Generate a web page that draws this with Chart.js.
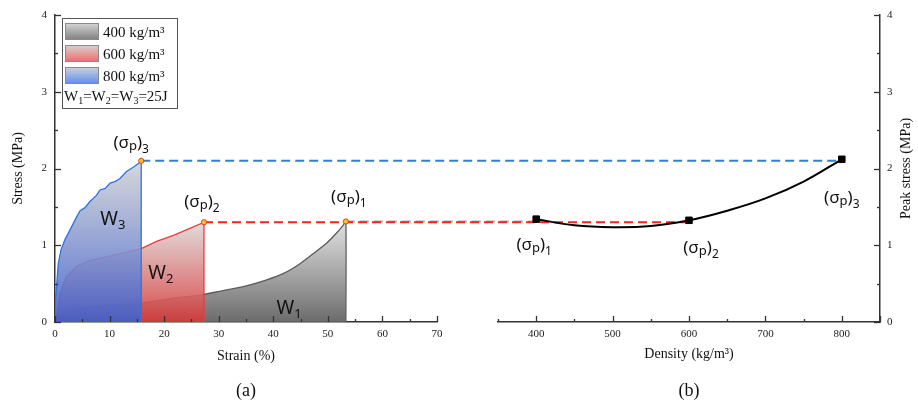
<!DOCTYPE html>
<html>
<head>
<meta charset="utf-8">
<script src="https://cdn.jsdelivr.net/npm/chart.js@4.4.1/dist/chart.umd.min.js"></script>
<style>
html,body{margin:0;padding:0;background:#fff;}
#wrap{position:relative;width:918px;height:405px;}
canvas{display:block;}
</style>
</head>
<body>
<div id="wrap"><canvas id="c" width="918" height="405"></canvas></div>
<script>
// ---------------- data ----------------
const strain400 = [0, 0.5, 1.5, 3.4, 5.8, 10.1, 15.9, 21.7, 26.6, 30.2, 34.5, 38.8, 41.8, 44.9, 47.3, 49.8, 51.6, 52.8, 53.3, 53.3];
const stress400 = [0, 0.05, 0.11, 0.17, 0.20, 0.22, 0.25, 0.31, 0.35, 0.40, 0.46, 0.55, 0.63, 0.76, 0.89, 1.03, 1.16, 1.26, 1.31, 0];
const strain600 = [0, 0.3, 0.9, 2.1, 4.0, 6.4, 10.1, 13.1, 15.9, 18.6, 21.7, 24.7, 27.0, 27.3, 27.3];
const stress600 = [0, 0.07, 0.37, 0.59, 0.73, 0.80, 0.86, 0.91, 0.96, 1.05, 1.13, 1.22, 1.29, 1.30, 0];
const strain800 = [0, 0, 0.6, 1.1, 1.8, 2.75, 3.97, 4.6, 5.5, 6.4, 7.6, 8.25, 9.2, 10.1, 11.0, 11.9, 13.1, 14.4, 15.6, 15.8, 15.8];
const stress800 = [0, 0.20, 0.76, 0.94, 1.07, 1.20, 1.37, 1.45, 1.49, 1.57, 1.65, 1.72, 1.74, 1.81, 1.83, 1.87, 1.96, 2.02, 2.08, 2.10, 0];

const peakStrain = [53.3, 27.3, 15.8];        // 400, 600, 800 kg/m3
const peakStress = [1.31, 1.30, 2.10];

const densities   = [400, 600, 800];
const peakStressB = [1.34, 1.325, 2.12];
const fitDensity  = [400, 450, 500, 550, 600, 650, 700, 750, 800];
const fitStress   = [1.34, 1.26, 1.235, 1.25, 1.325, 1.45, 1.61, 1.83, 2.12];

const strainTicks  = [0, 10, 20, 30, 40, 50, 60, 70];
const densityTicks = [400, 500, 600, 700, 800];
const stressTicks  = [0, 1, 2, 3, 4];

const legendLabels = ['400 kg/m³', '600 kg/m³', '800 kg/m³'];
const peakIndexLabels = ['1', '2', '3'];
const workLabels = ['1', '2', '3'];

// ---------------- layout / style constants ----------------
const PANEL_A_RIGHT = 437;
const PANEL_B_LEFT = 498;
const SERIF = '"Liberation Serif", "Times New Roman", serif';
const SANS = '"Noto Sans", "Open Sans", sans-serif';
const seriesLine = ['#5a5a5a', '#ee3b3b', '#2f72e6'];
const seriesTop = ['rgba(222,222,222,0.9)', 'rgba(222,214,214,0.88)', 'rgba(210,210,212,0.88)'];
const seriesBottom = ['rgba(100,100,100,0.95)', 'rgba(214,56,56,0.9)', 'rgba(62,96,206,0.9)'];
const dashColors = ['#a8a8a8', '#ee2626', '#2f80d2'];
// label offsets in px relative to anchors: [dx, baseline dy]
const peakLabelOffA = [[3, -19], [-2, -15], [-10, -13]];
const peakLabelOffB = [[-2, 31], [12, 33], [0, 44]];
const workAnchor = [[42.9, 0.104], [19.4, 0.56], [10.6, 1.264]];

const pts = (xs, ys) => xs.map((x, i) => ({x: x, y: ys[i]}));

function areaGradient(i, peak) {
  return (c) => {
    const ch = c.chart, ca = ch.chartArea;
    if (!ca || !ch.scales.y) return seriesTop[i];
    const y0 = ch.scales.y.getPixelForValue(peak);
    const g = ch.ctx.createLinearGradient(0, y0, 0, ca.bottom);
    g.addColorStop(0, seriesTop[i]);
    g.addColorStop(1, seriesBottom[i]);
    return g;
  };
}

function drawRuns(ctx, runs, x, baseline, family, align) {
  let w = 0;
  runs.forEach(r => { ctx.font = r[1] + 'px ' + family; w += ctx.measureText(r[0]).width; });
  let cx = align === 'left' ? x : x - w / 2;
  ctx.textAlign = 'left';
  ctx.textBaseline = 'alphabetic';
  runs.forEach(r => {
    ctx.font = r[1] + 'px ' + family;
    ctx.fillText(r[0], cx, baseline + r[2]);
    cx += ctx.measureText(r[0]).width;
  });
}
const sigmaRuns = (n) => [['(σ', 17, 0], ['p', 13, 2], [')', 17, 0], [n, 12, 5]];

function drawTicks(ctx, scale, dir, majorLen, minorLen) {
  const vals = scale.ticks.map(t => t.value);
  const step = vals.length > 1 ? vals[1] - vals[0] : 1;
  const minors = [];
  for (let v = scale.min; v <= scale.max + 1e-9; v += step / 2) minors.push(v);
  ctx.save();
  ctx.strokeStyle = '#333';
  ctx.lineWidth = 1.3;
  minors.forEach(v => {
    const isMajor = vals.some(m => Math.abs(m - v) < 1e-9) || Math.abs(v - scale.max) < 1e-9;
    const len = isMajor ? majorLen : minorLen;
    const p = Math.round(scale.getPixelForValue(v)) + 0.5;
    ctx.beginPath();
    if (dir === 'up') { ctx.moveTo(p, scale.top); ctx.lineTo(p, scale.top - len); }
    else if (dir === 'right') { ctx.moveTo(scale.right, p); ctx.lineTo(scale.right + len, p); }
    else if (dir === 'left') { ctx.moveTo(scale.left, p); ctx.lineTo(scale.left - len, p); }
    ctx.stroke();
  });
  ctx.restore();
}

const customPlugin = {
  id: 'custom',
  afterLayout(chart) {
    const ca = chart.chartArea;
    const xa = chart.scales.xa, xb = chart.scales.xb;
    xa.left = ca.left; xa.right = PANEL_A_RIGHT; xa.width = xa.right - xa.left;
    xb.left = PANEL_B_LEFT; xb.right = ca.right; xb.width = xb.right - xb.left;
    xb.top = xa.top; xb.bottom = xa.bottom; xb.height = xa.height;
    xa.configure(); xb.configure();
  },
  beforeDatasetsDraw(chart) {
    const ctx = chart.ctx, xa = chart.scales.xa, xb = chart.scales.xb, y = chart.scales.y;
    ctx.save();
    ctx.lineWidth = 2;
    ctx.setLineDash([9, 5]);
    for (let i = 0; i < peakStrain.length; i++) {
      const py = y.getPixelForValue(peakStress[i]);
      ctx.strokeStyle = dashColors[i];
      ctx.beginPath();
      ctx.moveTo(xa.getPixelForValue(peakStrain[i]), py);
      ctx.lineTo(xb.getPixelForValue(densities[i]), py);
      ctx.stroke();
    }
    ctx.restore();
  },
  afterDraw(chart) {
    const ctx = chart.ctx, s = chart.scales;
    // inward tick marks
    drawTicks(ctx, s.xa, 'up', 6, 3);
    drawTicks(ctx, s.xb, 'up', 6, 3);
    drawTicks(ctx, s.y, 'right', 6, 3);
    drawTicks(ctx, s.y2, 'left', 6, 3);

    ctx.save();
    ctx.fillStyle = '#111';
    // peak labels, panel (a)
    for (let i = 0; i < peakStrain.length; i++) {
      const x = s.xa.getPixelForValue(peakStrain[i]) + peakLabelOffA[i][0];
      const yb = s.y.getPixelForValue(peakStress[i]) + peakLabelOffA[i][1];
      drawRuns(ctx, sigmaRuns(peakIndexLabels[i]), x, yb, SANS);
    }
    // peak labels, panel (b)
    for (let i = 0; i < densities.length; i++) {
      const x = s.xb.getPixelForValue(densities[i]) + peakLabelOffB[i][0];
      const yb = s.y2.getPixelForValue(peakStressB[i]) + peakLabelOffB[i][1];
      drawRuns(ctx, sigmaRuns(peakIndexLabels[i]), x, yb, SANS);
    }
    // work labels
    for (let i = 0; i < workLabels.length; i++) {
      const x = s.xa.getPixelForValue(workAnchor[i][0]);
      const yb = s.y.getPixelForValue(workAnchor[i][1]);
      drawRuns(ctx, [['W', 19, 0], [workLabels[i], 13, 4]], x, yb, SANS);
    }

    // legend box
    const lx = 62.5, ly = 18.5, lw = 115, lh = 90;
    ctx.fillStyle = '#fff';
    ctx.fillRect(lx, ly, lw, lh);
    ctx.strokeStyle = '#555';
    ctx.lineWidth = 1;
    ctx.strokeRect(lx, ly, lw, lh);
    const swTop = ['#d6d6d6', '#d8d2d2', '#d0d2d8'];
    const swBot = ['#7e7e7e', '#f06a6a', '#5c8ef0'];
    for (let i = 0; i < legendLabels.length; i++) {
      const sy = 23 + i * 22;
      const g = ctx.createLinearGradient(0, sy, 0, sy + 17);
      g.addColorStop(0, swTop[i]); g.addColorStop(1, swBot[i]);
      ctx.fillStyle = g;
      ctx.fillRect(65, sy, 34, 17);
      ctx.strokeStyle = '#8a8a8a';
      ctx.strokeRect(65.5, sy + 0.5, 33, 16);
      ctx.fillStyle = '#111';
      ctx.font = '15px ' + SERIF;
      ctx.textAlign = 'left';
      ctx.textBaseline = 'alphabetic';
      ctx.fillText(legendLabels[i], 103, sy + 14);
    }
    ctx.fillStyle = '#111';
    drawRuns(ctx, [['W', 15, 0], [workLabels[0], 10, 3], ['=W', 15, 0], [workLabels[1], 10, 3],
                   ['=W', 15, 0], [workLabels[2], 10, 3], ['=25J', 15, 0]], 64, 101, SERIF, 'left');

    // right axis title (reads bottom to top)
    ctx.save();
    ctx.translate(906, (s.y2.top + s.y2.bottom) / 2);
    ctx.rotate(-Math.PI / 2);
    ctx.font = '14px ' + SERIF;
    ctx.textAlign = 'center';
    ctx.textBaseline = 'middle';
    ctx.fillText('Peak stress (MPa)', 0, 0);
    ctx.restore();

    // panel letters
    ctx.font = '18px ' + SERIF;
    ctx.textAlign = 'center';
    ctx.textBaseline = 'middle';
    ctx.fillText('(a)', (s.xa.left + s.xa.right) / 2, 391);
    ctx.fillText('(b)', (s.xb.left + s.xb.right) / 2, 391);
    ctx.restore();
  }
};

const tickFont = {family: SERIF, size: 11};
const titleFont = {family: SERIF, size: 14};

new Chart(document.getElementById('c'), {
  type: 'line',
  data: {
    datasets: [
      {label: 'peaks', xAxisID: 'xa', yAxisID: 'y', data: pts(peakStrain, peakStress), showLine: false,
       pointRadius: 2.6, pointBackgroundColor: '#ffc21a', pointBorderColor: '#e8401c', pointBorderWidth: 1, order: 0},
      {label: legendLabels[2], xAxisID: 'xa', yAxisID: 'y', data: pts(strain800, stress800),
       borderColor: seriesLine[2], borderWidth: 1.3, pointRadius: 0, tension: 0, fill: 'origin',
       backgroundColor: areaGradient(2, Math.max(...stress800)), order: 1},
      {label: legendLabels[1], xAxisID: 'xa', yAxisID: 'y', data: pts(strain600, stress600),
       borderColor: seriesLine[1], borderWidth: 1.3, pointRadius: 0, tension: 0, fill: 'origin',
       backgroundColor: areaGradient(1, Math.max(...stress600)), order: 2},
      {label: legendLabels[0], xAxisID: 'xa', yAxisID: 'y', data: pts(strain400, stress400),
       borderColor: seriesLine[0], borderWidth: 1.3, pointRadius: 0, tension: 0.2, fill: 'origin',
       backgroundColor: areaGradient(0, Math.max(...stress400)), order: 3},
      {label: 'fit', xAxisID: 'xb', yAxisID: 'y2', data: pts(fitDensity, fitStress),
       borderColor: '#000', borderWidth: 2, pointRadius: 0, tension: 0.4, fill: false, order: 1},
      {label: 'peak stress', xAxisID: 'xb', yAxisID: 'y2', data: pts(densities, peakStressB), showLine: false,
       pointStyle: 'rect', pointRadius: 4.6, pointBackgroundColor: '#000', pointBorderColor: '#000', order: 0}
    ]
  },
  options: {
    responsive: false,
    animation: false,
    events: [],
    layout: {padding: {top: 15, left: 0, right: 0, bottom: 0}},
    plugins: {legend: {display: false}, tooltip: {enabled: false}},
    scales: {
      xa: {
        type: 'linear', position: 'bottom', min: 0, max: 70,
        afterBuildTicks: (sc) => { sc.ticks = strainTicks.map(v => ({value: v})); },
        grid: {display: false, drawTicks: false},
        border: {display: true, color: '#333', width: 1.5},
        ticks: {padding: 6, font: tickFont, color: '#222', maxRotation: 0, autoSkip: false},
        title: {display: true, text: 'Strain (%)', font: titleFont, color: '#111', padding: {top: 0, bottom: 40}},
        afterFit: (sc) => { sc.height = 83; }
      },
      xb: {
        type: 'linear', position: 'bottom', min: 350, max: 850,
        afterBuildTicks: (sc) => { sc.ticks = densityTicks.map(v => ({value: v})); },
        grid: {display: false, drawTicks: false},
        border: {display: true, color: '#333', width: 1.5},
        ticks: {padding: 6, font: tickFont, color: '#222', maxRotation: 0, autoSkip: false},
        title: {display: true, text: 'Density (kg/m³)', font: titleFont, color: '#111', padding: {top: 0, bottom: 42}},
        afterFit: (sc) => { sc.height = 0; }
      },
      y: {
        type: 'linear', position: 'left', min: 0, max: 4,
        afterBuildTicks: (sc) => { sc.ticks = stressTicks.map(v => ({value: v})); },
        grid: {display: false, drawTicks: false},
        border: {display: true, color: '#333', width: 1.5},
        ticks: {padding: 8, font: tickFont, color: '#222'},
        title: {display: true, text: 'Stress (MPa)', font: titleFont, color: '#111', padding: {top: 10, bottom: 0}},
        afterFit: (sc) => { sc.width = 55; }
      },
      y2: {
        type: 'linear', position: 'right', min: 0, max: 4,
        afterBuildTicks: (sc) => { sc.ticks = stressTicks.map(v => ({value: v})); },
        grid: {display: false, drawTicks: false},
        border: {display: true, color: '#333', width: 1.5},
        ticks: {padding: 7, font: tickFont, color: '#222'},
        title: {display: false},
        afterFit: (sc) => { sc.width = 38; }
      }
    }
  },
  plugins: [customPlugin]
});
</script>
</body>
</html>
